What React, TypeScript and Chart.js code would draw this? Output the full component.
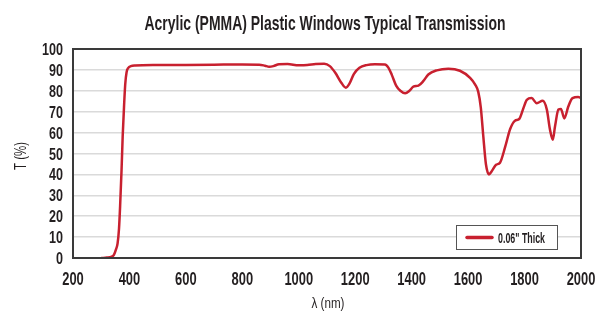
import React, { useEffect, useRef } from 'react';
import { Chart, registerables } from 'chart.js';

Chart.register(...registerables);

const titleText = 'Acrylic (PMMA) Plastic Windows Typical Transmission';
const xAxisLabel = 'λ (nm)';
const yAxisLabel = 'T (%)';
const seriesLabel = '0.06" Thick';

const xTickValues = [200, 400, 600, 800, 1000, 1200, 1400, 1600, 1800, 2000];
const yTickValues = [0, 10, 20, 30, 40, 50, 60, 70, 80, 90, 100];

const wavelengths = [
  300, 320, 335, 345, 352, 358, 363, 367, 372, 376, 381, 385, 390, 396, 405, 420,
  500, 600, 700, 800, 860, 880, 895, 910, 930, 960, 1000, 1030, 1060, 1090,
  1110, 1130, 1150, 1167, 1180, 1195, 1215, 1240, 1270, 1305, 1318, 1330, 1345,
  1360, 1377, 1392, 1406, 1424, 1441, 1459, 1489, 1530, 1571, 1607, 1625, 1636,
  1645, 1654, 1663, 1674, 1683, 1699, 1713, 1731, 1749, 1766, 1781, 1796, 1808,
  1825, 1843, 1864, 1879, 1890, 1900, 1908, 1920, 1929, 1941, 1955, 1970, 1990, 1997,
];

const transmission = [
  0, 0.2, 0.5, 1.5, 4, 7, 14, 25, 42, 58, 73, 83, 89, 91, 91.8, 92.1,
  92.3, 92.4, 92.5, 92.6, 92.5, 92.0, 91.5, 91.8, 92.7, 92.8, 92.2, 92.3, 92.8, 92.9,
  91.8, 88.5, 84, 81.5, 83.5, 88, 91, 92.3, 92.7, 92.6, 91, 87.5, 82.5,
  80, 78.8, 80, 82, 82.5, 84.6, 87.8, 89.8, 90.6, 89.6, 86.2, 83, 79.5,
  72, 58, 45, 40, 41.4, 44.6, 45.6, 53, 61.7, 65.7, 66.5, 71.7, 75.7,
  76.5, 74.1, 75.2, 71, 61.5, 56.6, 63, 71, 71.3, 66.8, 72.5, 76.5, 77, 76.7,
];

const FONT = "'Liberation Sans', Arial, sans-serif";
const RED = '#c8202f';
const TEXT = '#231f20';

// draw text horizontally condensed by factor sx (or to a target width)
function drawCondensed(
  ctx: CanvasRenderingContext2D,
  text: string,
  x: number,
  y: number,
  font: string,
  align: 'left' | 'center' | 'right',
  sx: number,
  targetWidth?: number,
) {
  ctx.save();
  ctx.font = font;
  ctx.textAlign = 'left';
  const w = ctx.measureText(text).width;
  const s = targetWidth ? targetWidth / w : sx;
  const ww = w * s;
  let x0 = x;
  if (align === 'center') x0 = x - ww / 2;
  else if (align === 'right') x0 = x - ww;
  ctx.translate(x0, y);
  ctx.scale(s, 1);
  ctx.fillText(text, 0, 0);
  ctx.restore();
}

const decorPlugin = {
  id: 'decor',
  afterDraw(chart: any) {
    const { ctx, chartArea } = chart;
    const { left, right, top, bottom } = chartArea;
    const xs = chart.scales.x;
    const ys = chart.scales.y;
    ctx.save();
    // plot border
    ctx.strokeStyle = '#3a3a3a';
    ctx.lineWidth = 2;
    ctx.strokeRect(left, top, right - left, bottom - top);

    ctx.fillStyle = TEXT;
    ctx.textBaseline = 'alphabetic';

    // title
    drawCondensed(ctx, titleText, (left + right) / 2 - 2, 30, `bold 21px ${FONT}`, 'center', 1, 361);

    // y tick labels
    for (const v of yTickValues) {
      const py = ys.getPixelForValue(v);
      drawCondensed(ctx, String(v), left - 10, py + 6, `bold 17px ${FONT}`, 'right', 0.74);
    }
    // x tick labels
    for (const v of xTickValues) {
      const px = xs.getPixelForValue(v);
      drawCondensed(ctx, String(v), px, 285, `bold 19px ${FONT}`, 'center', 0.68);
    }

    // x axis title
    drawCondensed(ctx, xAxisLabel, (left + right) / 2 + 1, 308, `15px ${FONT}`, 'center', 1, 33);

    // y axis title (rotated)
    ctx.save();
    ctx.translate(26, 156);
    ctx.rotate(-Math.PI / 2);
    drawCondensed(ctx, yAxisLabel, 0, 0, `16px ${FONT}`, 'center', 1, 28);
    ctx.restore();

    // legend
    const bx = 456, by = 225, bw = 101, bh = 24;
    ctx.fillStyle = '#ffffff';
    ctx.fillRect(bx, by, bw, bh);
    ctx.strokeStyle = '#555555';
    ctx.lineWidth = 1;
    ctx.strokeRect(bx + 0.5, by + 0.5, bw, bh);
    ctx.strokeStyle = RED;
    ctx.lineWidth = 3.5;
    ctx.lineCap = 'round';
    ctx.beginPath();
    ctx.moveTo(467, by + 12.5);
    ctx.lineTo(492, by + 12.5);
    ctx.stroke();
    ctx.fillStyle = TEXT;
    const label = chart.data.datasets[0].label;
    drawCondensed(ctx, label, 498, by + 18, `bold 14px ${FONT}`, 'left', 1, 47);
    ctx.restore();
  },
};

export default function App() {
  const ref = useRef<HTMLCanvasElement | null>(null);
  useEffect(() => {
    if (!ref.current) return;
    const points = wavelengths.map((x, i) => ({ x, y: transmission[i] }));
    const chart = new Chart(ref.current, {
      type: 'line',
      data: {
        datasets: [
          {
            label: seriesLabel,
            data: points,
            borderColor: RED,
            backgroundColor: RED,
            borderWidth: 2.5,
            pointRadius: 0,
            cubicInterpolationMode: 'monotone',
            fill: false,
          },
        ],
      },
      options: {
        animation: false,
        responsive: false,
        maintainAspectRatio: false,
        layout: { padding: { top: 49, right: 18, left: 0, bottom: 0 } },
        plugins: {
          legend: { display: false },
          title: { display: false },
          tooltip: { enabled: false },
        },
        scales: {
          x: {
            type: 'linear',
            min: 200,
            max: 2000,
            afterBuildTicks: (scale: any) => {
              scale.ticks = xTickValues.map((v) => ({ value: v }));
            },
            afterFit: (scale: any) => {
              scale.height = 57;
            },
            grid: { display: false, drawTicks: false },
            border: { display: false },
            ticks: { display: false, autoSkip: false },
          },
          y: {
            min: 0,
            max: 100,
            afterBuildTicks: (scale: any) => {
              scale.ticks = yTickValues.map((v) => ({ value: v }));
            },
            afterFit: (scale: any) => {
              scale.width = 73;
            },
            grid: { color: '#dadada', lineWidth: 1.5, drawTicks: false },
            border: { display: false },
            ticks: { display: false, autoSkip: false },
          },
        },
      },
      plugins: [decorPlugin],
    });
    return () => chart.destroy();
  }, []);

  return (
    <div style={{ position: 'absolute', left: 0, top: 0, width: 599, height: 315, background: '#fff' }}>
      <canvas ref={ref} width={599} height={315} style={{ width: 599, height: 315 }} />
    </div>
  );
}
